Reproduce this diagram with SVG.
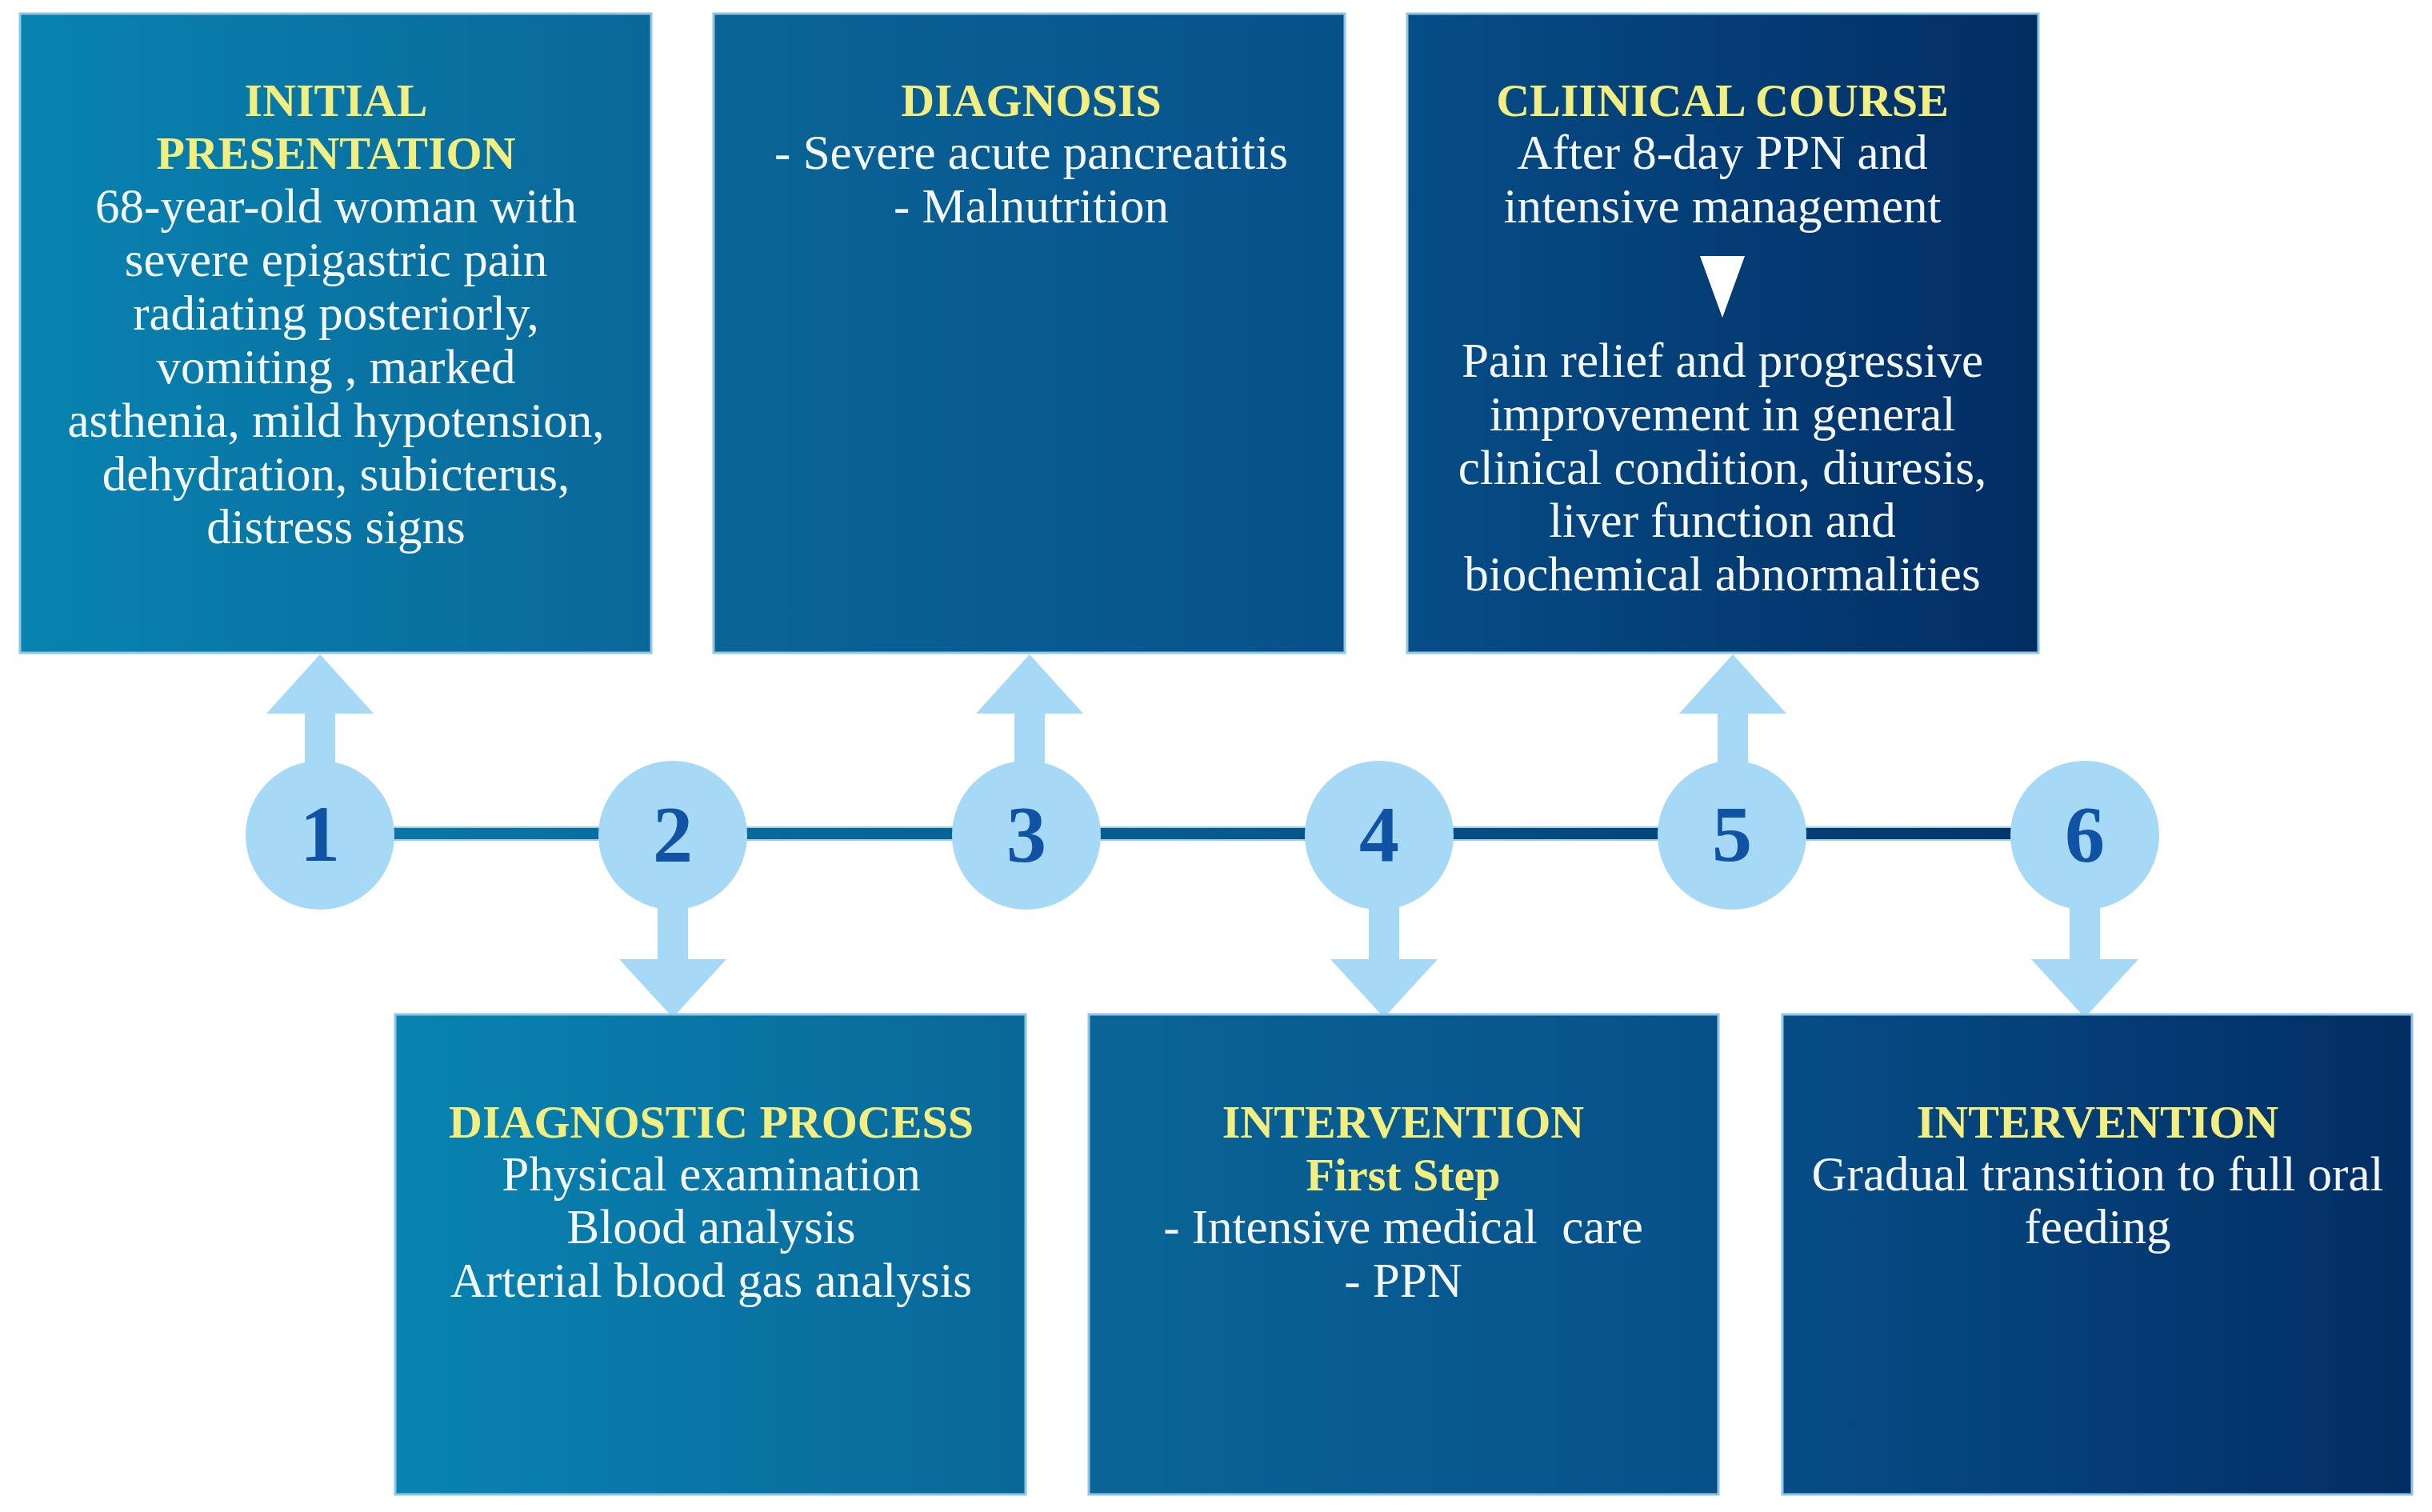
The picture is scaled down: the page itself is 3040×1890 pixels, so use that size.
<svg xmlns="http://www.w3.org/2000/svg" width="3040" height="1890" viewBox="0 0 3040 1890">
<style>
.box{stroke:#8ec6e6;stroke-width:3}
.t{font-family:"Liberation Serif","Times New Roman",serif;font-size:61px;fill:#f4f7fa;text-anchor:middle}
.h{font-family:"Liberation Serif","Times New Roman",serif;font-size:58px;font-weight:bold;fill:#f2ee80;text-anchor:middle}
.num{font-family:"Liberation Serif","Times New Roman",serif;font-size:100px;font-weight:bold;fill:#1052a4;text-anchor:middle}
.circ{fill:#a6d9f6}
.arr{fill:#a6d9f6}
</style>
<defs>
<linearGradient id="gTop" gradientUnits="userSpaceOnUse" x1="25" y1="0" x2="2548" y2="0">
<stop offset="0" stop-color="#0883b0"/>
<stop offset="0.33" stop-color="#0a6697"/>
<stop offset="0.66" stop-color="#07508a"/>
<stop offset="1" stop-color="#022d63"/>
</linearGradient>
<linearGradient id="gBot" gradientUnits="userSpaceOnUse" x1="494" y1="0" x2="3015" y2="0">
<stop offset="0" stop-color="#0883b0"/>
<stop offset="0.33" stop-color="#0a6697"/>
<stop offset="0.66" stop-color="#07508a"/>
<stop offset="1" stop-color="#022d63"/>
</linearGradient>
<linearGradient id="gLine" gradientUnits="userSpaceOnUse" x1="400" y1="0" x2="2606" y2="0">
<stop offset="0" stop-color="#0a78a8"/>
<stop offset="0.5" stop-color="#075a8e"/>
<stop offset="1" stop-color="#023268"/>
</linearGradient>
</defs>
<rect width="3040" height="1890" fill="#ffffff"/>

<g id="connectors">
<rect x="400" y="1034" width="2206" height="16" fill="url(#gLine)" stroke="#9fd0ee" stroke-width="2"/>
<polygon class="arr" points="381,990 381,892 333,892 400,818 467,892 419,892 419,990"/>
<polygon class="arr" points="1268,990 1268,892 1220,892 1287,818 1354,892 1306,892 1306,990"/>
<polygon class="arr" points="2147,990 2147,892 2099,892 2166,818 2233,892 2185,892 2185,990"/>
<polygon class="arr" points="822,1100 822,1199 774,1199 841,1272 908,1199 860,1199 860,1100"/>
<polygon class="arr" points="1711,1100 1711,1199 1663,1199 1730,1272 1797,1199 1749,1199 1749,1100"/>
<polygon class="arr" points="2587,1100 2587,1199 2539,1199 2606,1272 2673,1199 2625,1199 2625,1100"/>
</g>

<g id="step1"><circle class="circ" cx="400" cy="1044" r="93"/><text class="num" x="400" y="1076">1</text></g>
<g id="step2"><circle class="circ" cx="841" cy="1044" r="93"/><text class="num" x="841" y="1076">2</text></g>
<g id="step3"><circle class="circ" cx="1283" cy="1044" r="93"/><text class="num" x="1283" y="1076">3</text></g>
<g id="step4"><circle class="circ" cx="1724" cy="1044" r="93"/><text class="num" x="1724" y="1076">4</text></g>
<g id="step5"><circle class="circ" cx="2165" cy="1044" r="93"/><text class="num" x="2165" y="1076">5</text></g>
<g id="step6"><circle class="circ" cx="2606" cy="1044" r="93"/><text class="num" x="2606" y="1076">6</text></g>

<g id="initial-presentation">
<rect class="box" x="25" y="17" width="789" height="799" fill="url(#gTop)"/>
<text class="h" x="420" y="145">INITIAL</text>
<text class="h" x="420" y="211">PRESENTATION</text>
<text class="t" x="420" y="278">68-year-old woman with</text>
<text class="t" x="420" y="345">severe epigastric pain</text>
<text class="t" x="420" y="412">radiating posteriorly,</text>
<text class="t" x="420" y="479">vomiting , marked</text>
<text class="t" x="420" y="546">asthenia, mild hypotension,</text>
<text class="t" x="420" y="613">dehydration, subicterus,</text>
<text class="t" x="420" y="679">distress signs</text>
</g>

<g id="diagnosis">
<rect class="box" x="892" y="17" width="789" height="799" fill="url(#gTop)"/>
<text class="h" x="1289" y="145">DIAGNOSIS</text>
<text class="t" x="1289" y="211">- Severe acute pancreatitis</text>
<text class="t" x="1289" y="278">- Malnutrition</text>
</g>

<g id="clinical-course">
<rect class="box" x="1759" y="17" width="789" height="799" fill="url(#gTop)"/>
<text class="h" x="2153" y="145">CLIINICAL COURSE</text>
<text class="t" x="2153" y="211">After 8-day PPN and</text>
<text class="t" x="2153" y="278">intensive management</text>
<polygon points="2125,320 2181,320 2153,397" fill="#ffffff"/>
<text class="t" x="2153" y="471">Pain relief and progressive</text>
<text class="t" x="2153" y="538">improvement in general</text>
<text class="t" x="2153" y="605">clinical condition, diuresis,</text>
<text class="t" x="2153" y="671">liver function and</text>
<text class="t" x="2153" y="738">biochemical abnormalities</text>
</g>

<g id="diagnostic-process">
<rect class="box" x="494" y="1268" width="788" height="600" fill="url(#gBot)"/>
<text class="h" x="889" y="1422">DIAGNOSTIC PROCESS</text>
<text class="t" x="889" y="1488">Physical examination</text>
<text class="t" x="889" y="1554">Blood analysis</text>
<text class="t" x="889" y="1621">Arterial blood gas analysis</text>
</g>

<g id="intervention-first-step">
<rect class="box" x="1361" y="1268" width="787" height="600" fill="url(#gBot)"/>
<text class="h" x="1754" y="1422">INTERVENTION</text>
<text class="h" x="1754" y="1488">First Step</text>
<text class="t" x="1754" y="1554" xml:space="preserve">- Intensive medical  care</text>
<text class="t" x="1754" y="1621">- PPN</text>
</g>

<g id="intervention-oral">
<rect class="box" x="2228" y="1268" width="787" height="600" fill="url(#gBot)"/>
<text class="h" x="2622" y="1422">INTERVENTION</text>
<text class="t" x="2622" y="1488">Gradual transition to full oral</text>
<text class="t" x="2622" y="1554">feeding</text>
</g>
</svg>
